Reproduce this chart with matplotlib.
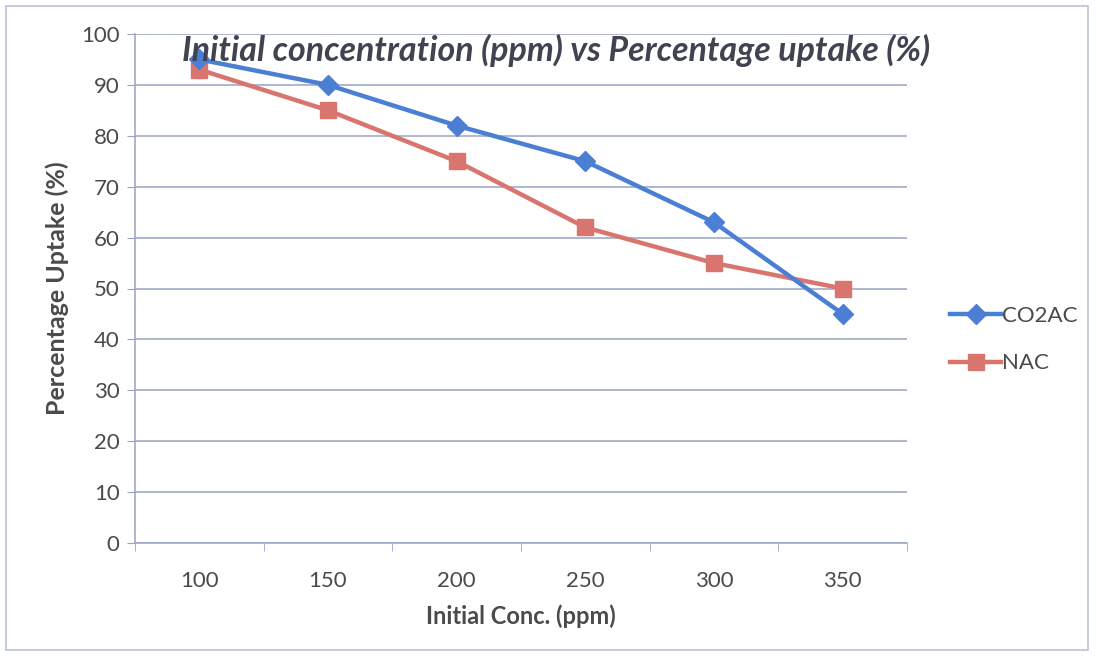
import matplotlib
matplotlib.use("Agg")
import matplotlib.pyplot as plt
from matplotlib.patches import Rectangle

# uptake vs initial concentration
conc = ["100", "150", "200", "250", "300", "350"]
co2ac = [95, 90, 82, 75, 63, 45]
nac = [93, 85, 75, 62, 55, 50]

BLUE = "#4a7fd4"
SALMON = "#d9756f"
GRID = "#98a3c4"
TEXT = "#4a4a4a"

plt.rcParams["font.family"] = ["Lato", "DejaVu Sans"]

fig = plt.figure(figsize=(10.96, 6.6), dpi=100)
ax = fig.add_axes([135 / 1096, 1 - 543 / 660, 772 / 1096, 509 / 660])

x = list(range(len(conc)))
ax.plot(x, co2ac, color=BLUE, linewidth=3.2, marker="D", markersize=10,
        label="CO2AC", zorder=3)
ax.plot(x, nac, color=SALMON, linewidth=3.2, marker="s", markersize=12,
        label="NAC", zorder=2)

ax.set_xlim(-0.5, len(conc) - 0.5)
ax.set_ylim(0, 100)
ax.set_yticks(range(0, 101, 10))
ax.set_xticks(x)
ax.set_xticklabels(conc)
# category boundary ticks like a spreadsheet chart
ax.set_xticks([i - 0.5 for i in range(len(conc) + 1)], minor=True)
ax.tick_params(axis="x", which="major", length=0, pad=20, labelsize=16, labelcolor=TEXT)
ax.tick_params(axis="x", which="minor", length=6, color=GRID, direction="out")
ax.tick_params(axis="y", length=6, color=GRID, labelsize=16, labelcolor=TEXT, pad=5)

ax.grid(axis="y", color=GRID, linewidth=1.1)
ax.set_axisbelow(True)
for side in ["top", "right"]:
    ax.spines[side].set_visible(False)
for side in ["left", "bottom"]:
    ax.spines[side].set_color(GRID)
    ax.spines[side].set_linewidth(1.1)

ax.set_xlabel("Initial Conc. (ppm)", fontsize=17, fontweight="bold", color=TEXT, labelpad=10)
ax.set_ylabel("Percentage Uptake (%)", fontsize=18, fontweight="bold", color=TEXT, labelpad=9)

fig.text(556 / 1096, 1 - 50 / 660, "Initial concentration (ppm) vs Percentage uptake (%)",
         ha="center", va="center", fontsize=24.5, fontweight="bold", style="italic", color="#404350")

ax.legend(loc="center left", bbox_to_anchor=(1.03, 0.4), frameon=False, fontsize=16,
          handlelength=2.3, handletextpad=0.05, labelspacing=1.25, labelcolor=TEXT)

# outer chart border
fig.patches.append(Rectangle((6 / 1096, 10 / 660), 1082 / 1096, 644 / 660,
                             transform=fig.transFigure, fill=False,
                             edgecolor="#b9c2d8", linewidth=1.2))

fig.savefig("out.png", dpi=100)
